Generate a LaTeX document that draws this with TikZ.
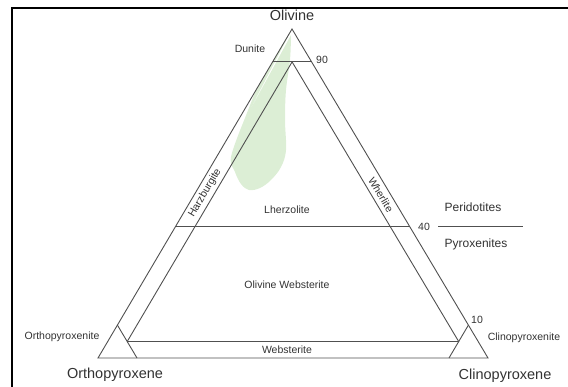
\documentclass[tikz,border=0pt]{standalone}
\usepackage{fontspec}
\setmainfont{Liberation Sans}
\usetikzlibrary{calc}
\definecolor{lineg}{RGB}{80,80,80}
\definecolor{txtg}{RGB}{50,50,50}
\definecolor{fieldg}{RGB}{220,238,213}
\tikzset{
  edge/.style={draw=lineg, line width=0.9pt},
  lbl/.style={inner sep=0pt, text=txtg, font=\fontsize{10.5}{12}\selectfont},
  biglbl/.style={inner sep=0pt, text=txtg, font=\fontsize{14.5}{16}\selectfont},
  midlbl/.style={inner sep=0pt, text=txtg, font=\fontsize{12}{14}\selectfont},
  frameline/.style={draw=black, line width=1.3pt}
}
\begin{document}
\begin{tikzpicture}[x=1pt,y=-1pt]
\useasboundingbox (0,0) rectangle (568,387);
% frame
\coordinate (f1) at (12,387);
\coordinate (f2) at (12,8);
\coordinate (f3) at (568,8);
\draw[frameline] (f1) -- (f2) -- (f3);
% corners
\coordinate (A) at (292,29);
\coordinate (B) at (98,358);
\coordinate (C) at (488,358);
% green field
\fill[fieldg] (292,29) -- (256,90) -- (243,123)
  plot[smooth, tension=0.6] coordinates {(243,123) (231,157) (235,172) (241,184) (249,190) (260,188) (271,180) (281,167) (286,150) (285,120) (286,90) (290,60) (291,35)} -- cycle;
% key points
\coordinate (d1) at (barycentric cs:A=0.9,B=0.1,C=0);
\coordinate (d2) at (barycentric cs:A=0.9,B=0,C=0.1);
\coordinate (iA) at (barycentric cs:A=0.9,B=0.05,C=0.05);
\coordinate (iB) at (barycentric cs:A=0.05,B=0.9,C=0.05);
\coordinate (iC) at (barycentric cs:A=0.05,B=0.05,C=0.9);
\coordinate (o1) at (barycentric cs:A=0.1,B=0.9,C=0);
\coordinate (o2) at (barycentric cs:A=0,B=0.9,C=0.1);
\coordinate (c1) at (barycentric cs:A=0.1,B=0,C=0.9);
\coordinate (c2) at (barycentric cs:A=0,B=0.1,C=0.9);
\coordinate (p1) at (barycentric cs:A=0.4,B=0.6,C=0);
\coordinate (p2) at (barycentric cs:A=0.4,B=0,C=0.6);
\coordinate (e1) at (438,226.4);
\coordinate (e2) at (523,226.4);
% outer triangle
\draw[edge, line join=miter] (A) -- (B) -- (C) -- cycle;
% 90 line
\draw[edge] (d1) -- (d2);
% inner lines
\draw[edge] (iB) -- (iA) -- (iC);
\draw[edge] (iB) -- (iC);
% corner triangles
\draw[edge] (o1) -- (o2);
\draw[edge] (c1) -- (c2);
% 40 line
\draw[edge] (p1) -- (p2);
\draw[edge] (e1) -- (e2);
% labels
\node[biglbl] (tOl) at (292,15) {Olivine};
\node[lbl] (tDu) at (250,49) {Dunite};
\node[lbl] (t90) at (322,60) {90};
\node[lbl, rotate=59.5] (tHa) at (205,193) {Harzburgite};
\node[lbl, rotate=-59.2] (tWh) at (381,195) {Wherlite};
\node[lbl] (tLh) at (287,210) {Lherzolite};
\node[midlbl] (tPe) at (473,207) {Peridotites};
\node[lbl] (t40) at (424,227) {40};
\node[midlbl] (tPy) at (476,244) {Pyroxenites};
\node[lbl] (tOW) at (287,285) {Olivine Websterite};
\node[lbl] (tWe) at (287,349.5) {Websterite};
\node[lbl] (tOx) at (62,337) {Orthopyroxenite};
\node[biglbl] (tOp) at (115,375) {Orthopyroxene};
\node[lbl] (t10) at (477,320) {10};
\node[lbl] (tCx) at (524,338) {Clinopyroxenite};
\node[biglbl] (tCp) at (505,376) {Clinopyroxene};
\end{tikzpicture}
\end{document}
